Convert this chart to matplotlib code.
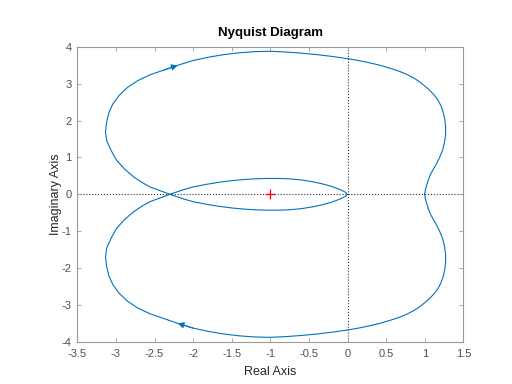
"""Nyquist diagram redrawn from a MATLAB figure."""

import matplotlib

matplotlib.use("Agg")
import matplotlib.pyplot as plt
import numpy as np

plt.rcParams["font.family"] = ["Liberation Sans", "DejaVu Sans"]

# upper outer branch, from (1, 0) round to the crossing
OUTER_RE = [1.00, 1.003, 1.01, 1.025, 1.045, 1.07, 1.11, 1.155, 1.19, 1.23,
            1.255, 1.27, 1.27, 1.26, 1.24, 1.21, 1.17, 1.12, 1.06, 1.00,
            0.94, 0.87, 0.78, 0.68, 0.55, 0.42, 0.28, 0.14, 0.00, -0.20,
            -0.40, -0.60, -0.80, -1.00, -1.20, -1.40, -1.60, -1.80, -2.00,
            -2.20, -2.38, -2.56, -2.72, -2.85, -2.96, -3.04, -3.09, -3.12,
            -3.135, -3.12, -3.06, -2.99, -2.89, -2.77, -2.66, -2.56, -2.43,
            -2.30]
OUTER_IM = [0.00, 0.06, 0.14, 0.25, 0.38, 0.52, 0.68, 0.84, 0.99, 1.19,
            1.40, 1.62, 1.83, 2.03, 2.22, 2.40, 2.56, 2.70, 2.83, 2.94,
            3.04, 3.14, 3.24, 3.33, 3.42, 3.50, 3.57, 3.63, 3.68, 3.74,
            3.79, 3.83, 3.86, 3.88, 3.87, 3.84, 3.79, 3.72, 3.63,
            3.50, 3.37, 3.24, 3.08, 2.90, 2.68, 2.45, 2.22, 1.96,
            1.70, 1.46, 1.18, 0.92, 0.69, 0.47, 0.32, 0.20, 0.10,
            0.00]

# lower inner loop, from the crossing to the origin
INNER_RE = [-2.30, -2.15, -2.00, -1.83, -1.65, -1.50, -1.35, -1.20, -1.05,
            -0.90, -0.75, -0.60, -0.45, -0.32, -0.20, -0.10, -0.03, 0.00]
INNER_IM = [0.00, -0.11, -0.20, -0.27, -0.33, -0.37, -0.40, -0.42, -0.43,
            -0.43, -0.42, -0.39, -0.34, -0.28, -0.21, -0.13, -0.06, 0.00]

CRITICAL_POINT = (-1.0, 0.0)
ARROW_RE = -2.20  # outer-branch point where the direction arrow sits

XTICK_LABELS = ["-3.5", "-3", "-2.5", "-2", "-1.5", "-1", "-0.5",
                "0", "0.5", "1", "1.5"]
YTICK_LABELS = ["-4", "-3", "-2", "-1", "0", "1", "2", "3", "4"]

LINE_COLOR = "#0072BD"
TEXT_COLOR = "#4d4d4d"
BOX_COLOR = "#9a9a9a"


def main() -> None:
    outer = np.array(OUTER_RE) + 1j * np.array(OUTER_IM)
    inner = np.array(INNER_RE) + 1j * np.array(INNER_IM)
    neg_branch = np.concatenate([outer, inner[1:]])
    # positive frequencies are the mirror image; join them end to end
    curve = np.concatenate([np.conj(neg_branch), neg_branch[::-1][1:]])

    fig = plt.figure(figsize=(5.12, 3.84), dpi=100)
    ax = fig.add_axes([0.151, 0.110, 0.754, 0.768])

    ax.axhline(0, color="#333333", linestyle=":", linewidth=0.8, zorder=1)
    ax.axvline(0, color="#333333", linestyle=":", linewidth=0.8, zorder=1)

    ax.plot(curve.real, curve.imag, color=LINE_COLOR, linewidth=0.8, zorder=2)

    # direction arrows: upper branch runs right, lower branch runs left
    idx = OUTER_RE.index(ARROW_RE)
    for sign, step in ((1, -1), (-1, 1)):
        tip = outer[idx]
        tail = outer[idx - step]
        ax.annotate(
            "",
            xy=(tip.real, sign * tip.imag),
            xytext=(tail.real, sign * tail.imag),
            arrowprops=dict(arrowstyle="-|>", color=LINE_COLOR, lw=0.8,
                            mutation_scale=9, shrinkA=0, shrinkB=0),
            zorder=3,
        )

    ax.plot(*CRITICAL_POINT, marker="+", color="red", markersize=7,
            markeredgewidth=0.9, zorder=4)

    ax.set_xlim(-3.5, 1.5)
    ax.set_ylim(-4, 4)
    ax.set_xticks(np.arange(-3.5, 1.51, 0.5))
    ax.set_yticks(np.arange(-4, 4.1, 1))
    ax.set_xticklabels(XTICK_LABELS)
    ax.set_yticklabels(YTICK_LABELS)
    ax.tick_params(direction="in", top=True, right=True, length=3,
                   width=0.6, color=BOX_COLOR, labelcolor=TEXT_COLOR,
                   labelsize=8)
    ax.tick_params(axis="x", pad=5)
    ax.tick_params(axis="y", pad=4)
    for spine in ax.spines.values():
        spine.set_color(BOX_COLOR)
        spine.set_linewidth(0.8)

    ax.set_title("Nyquist Diagram", fontsize=9.5, fontweight="bold",
                 color="black", pad=8)
    ax.set_xlabel("Real Axis", fontsize=9, color="#262626", labelpad=5)
    ax.set_ylabel("Imaginary Axis", fontsize=9, color="#262626", labelpad=0)

    fig.savefig("out.png", dpi=100)


if __name__ == "__main__":
    main()
